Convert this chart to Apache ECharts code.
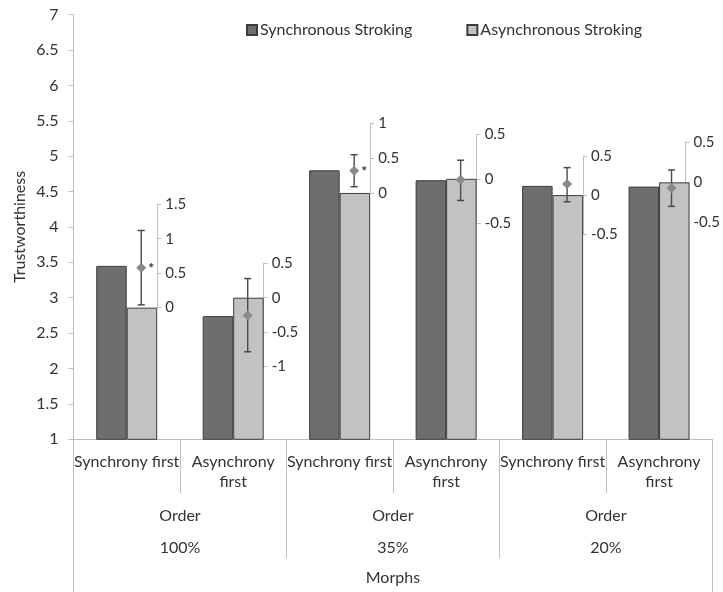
<!DOCTYPE html>
<html>
<head>
<meta charset="utf-8">
<script src="https://cdn.jsdelivr.net/npm/echarts@6/dist/echarts.min.js"></script>
<style>html,body{margin:0;padding:0;background:#fff;}#c{width:723px;height:592px;}</style>
</head>
<body>
<div id="c"></div>
<script>
// ---- data ----
const subCategories = ['Synchrony first', 'Asynchrony\nfirst', 'Synchrony first', 'Asynchrony\nfirst', 'Synchrony first', 'Asynchrony\nfirst'];
const groupLabels = ['100%', '35%', '20%'];
const groupTitle = 'Order';
const outerLabel = 'Morphs';
const seriesNames = ['Synchronous Stroking', 'Asynchronous Stroking'];
const syncValues = [3.45, 2.74, 4.80, 4.66, 4.58, 4.57];
const asyncValues = [2.86, 3.00, 4.48, 4.68, 4.45, 4.63];
const diffMean = [0.58, -0.26, 0.32, -0.01, 0.14, -0.07];
const diffLow = [0.04, -0.79, 0.09, -0.245, -0.085, -0.30];
const diffHigh = [1.12, 0.28, 0.55, 0.21, 0.35, 0.155];
const diffSig = ['*', '', '*', '', '', ''];
const insetMin = [0, -1, 0, -0.5, -0.5, -0.5];
const insetMax = [1.5, 0.5, 1, 0.5, 0.5, 0.5];
const yMin = 1, yMax = 7, yStep = 0.5;

// ---- layout ----
const W = 723, H = 592;
const G = { left: 73.5, right: 10.7, top: 14.6, bottom: 152.7 };
const plotH = H - G.top - G.bottom;
const plotW = W - G.left - G.right;
const catW = plotW / subCategories.length;
const barW = 30.5;
const insetScale = [68.9, 68.4, 69.6, 88.5, 78.5, 80.0]; // px per unit
const FONT = 'Lato';
const FS = 16;
const TXT = '#333333';
const AX = '#bfbfbf';
const DARK = '#6e6e6e', LIGHT = '#c2c2c2', EDGE = '#3c3c3c';
const ERR = '#4a4a4a';

const grids = [{ left: G.left, right: G.right, top: G.top, bottom: G.bottom }];
const xAxes = [
  { type: 'category', gridIndex: 0, position: 'bottom', data: subCategories,
    axisLine: { show: true, lineStyle: { color: AX } },
    axisTick: { show: true, interval: 0, length: 54, lineStyle: { color: AX } },
    axisLabel: { interval: 0, margin: 13, color: TXT, fontFamily: FONT, fontSize: FS, lineHeight: 20 } },
  { type: 'category', gridIndex: 0, position: 'bottom', offset: 0, data: groupLabels,
    axisLine: { show: false },
    axisTick: { show: true, interval: 0, length: 119, lineStyle: { color: AX } },
    axisLabel: { interval: 0, margin: 60.4, color: TXT, fontFamily: FONT, fontSize: FS, lineHeight: 32,
      formatter: v => groupTitle + '\n' + v } },
  { type: 'category', gridIndex: 0, position: 'bottom', offset: 0, data: [outerLabel],
    axisLine: { show: false },
    axisTick: { show: true, interval: 0, length: 153, lineStyle: { color: AX } },
    axisLabel: { interval: 0, margin: 128.7, color: TXT, fontFamily: FONT, fontSize: FS, lineHeight: 20 } }
];
const yAxes = [
  { type: 'value', gridIndex: 0, min: yMin, max: yMax, interval: yStep,
    name: 'Trustworthiness', nameLocation: 'middle', nameGap: 46, nameMoveOverlap: false,
    nameTextStyle: { color: TXT, fontFamily: FONT, fontSize: FS },
    axisLine: { show: true, lineStyle: { color: AX } },
    axisTick: { show: true, length: 5, lineStyle: { color: AX } },
    splitLine: { show: false },
    axisLabel: { margin: 15, color: TXT, fontFamily: FONT, fontSize: FS } }
];
const series = [
  { name: seriesNames[0], type: 'bar', xAxisIndex: 0, yAxisIndex: 0, data: syncValues, barWidth: barW, barGap: '0%',
    itemStyle: { color: DARK, borderColor: EDGE, borderWidth: 1 } },
  { name: seriesNames[1], type: 'bar', xAxisIndex: 0, yAxisIndex: 0, data: asyncValues, barWidth: barW, barGap: '0%',
    itemStyle: { color: LIGHT, borderColor: EDGE, borderWidth: 1 } }
];

for (let i = 0; i < subCategories.length; i++) {
  const zeroPx = G.top + (yMax - asyncValues[i]) / (yMax - yMin) * plotH;
  const ppu = insetScale[i];
  const center = G.left + catW * (i + 0.5);
  const gi = grids.length;
  const xi = xAxes.length;
  const yi = yAxes.length;
  grids.push({ left: center - 1.5, width: barW + 1.5, top: zeroPx - insetMax[i] * ppu, height: (insetMax[i] - insetMin[i]) * ppu });
  xAxes.push({ type: 'value', gridIndex: gi, min: 0, max: 1, show: false });
  yAxes.push({ type: 'value', gridIndex: gi, position: 'right', min: insetMin[i], max: insetMax[i], interval: 0.5,
    axisLine: { show: true, onZero: false, lineStyle: { color: AX } },
    axisTick: { show: true, length: 4, lineStyle: { color: AX } },
    splitLine: { show: false },
    axisLabel: { margin: 8, color: TXT, fontFamily: FONT, fontSize: 15 } });
  // error bar stem
  series.push({
    type: 'line', xAxisIndex: xi, yAxisIndex: yi, z: 5, silent: true, symbol: 'none',
    lineStyle: { color: ERR, width: 1.4 },
    data: [[0.5, diffLow[i]], [0.5, diffHigh[i]]]
  });
  // error bar caps
  series.push({
    type: 'scatter', xAxisIndex: xi, yAxisIndex: yi, z: 5, silent: true,
    symbol: 'rect', symbolSize: [7, 1.5],
    itemStyle: { color: ERR, opacity: 1 },
    data: [[0.5, diffLow[i]], [0.5, diffHigh[i]]]
  });
  // mean diamond
  series.push({
    type: 'scatter', xAxisIndex: xi, yAxisIndex: yi, z: 6, silent: true,
    symbol: 'diamond', symbolSize: 10,
    itemStyle: { color: '#8a8a8a', opacity: 1 },
    label: { show: diffSig[i] !== '', formatter: () => diffSig[i], position: 'right', distance: 2, offset: [0, 1],
      color: TXT, fontFamily: FONT, fontSize: 14, fontWeight: 'bold' },
    data: [[0.5, diffMean[i]]]
  });
}

const chart = echarts.init(document.getElementById('c'), null, { renderer: 'canvas' });
chart.setOption({
  animation: false,
  backgroundColor: '#fff',
  legend: {
    data: seriesNames, left: 241, top: 17, itemWidth: 10, itemHeight: 10, itemGap: 54,
    icon: 'rect',
    textStyle: { color: TXT, fontFamily: FONT, fontSize: FS, padding: [0, 0, 0, -2] }
  },
  grid: grids,
  xAxis: xAxes,
  yAxis: yAxes,
  series: series
});
</script>
</body>
</html>
